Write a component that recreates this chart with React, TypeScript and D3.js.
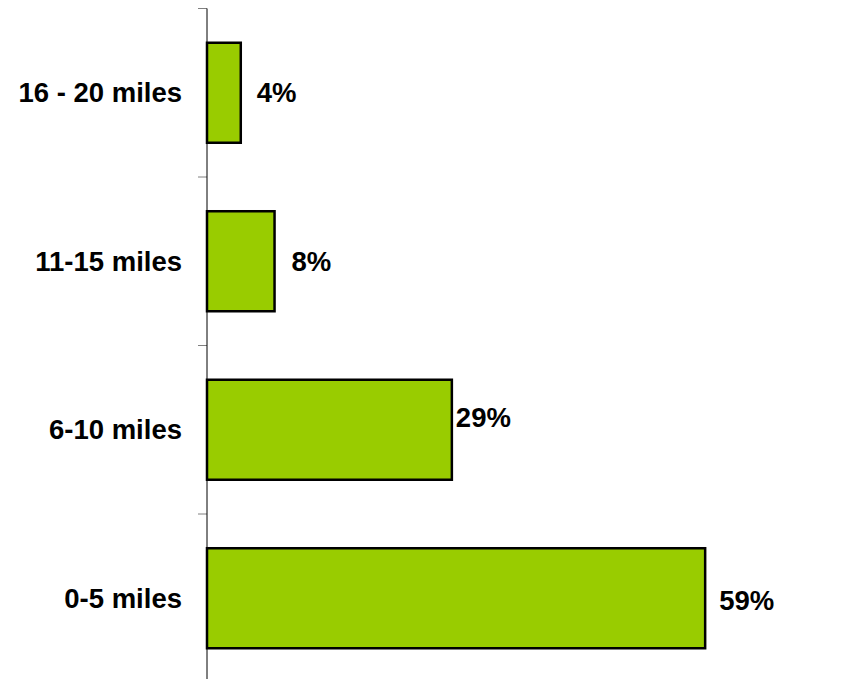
import React from "react";
import * as d3 from "d3";

const categories = ["16 - 20 miles", "11-15 miles", "6-10 miles", "0-5 miles"];
const values = [4, 8, 29, 59];
const valueLabels = ["4%", "8%", "29%", "59%"];

// label placement tweaks (layout only), keyed by category
const labelNudge: Record<string, { dx: number; dy: number }> = {
  "16 - 20 miles": { dx: 16, dy: 0 },
  "11-15 miles": { dx: 17, dy: 0 },
  "6-10 miles": { dx: 4, dy: -12 },
  "0-5 miles": { dx: 14, dy: 2 },
};

const W = 864;
const H = 679;
const AXIS_X = 207;
const FONT = "'Liberation Sans', Arial, Helvetica, sans-serif";

export default function App() {
  const pad = 0.4065;
  const y = d3
    .scaleBand<string>()
    .domain(categories)
    .range([8.5, 682.5])
    .paddingInner(pad)
    .paddingOuter(pad / 2);
  const x = d3.scaleLinear().domain([0, 60]).range([AXIS_X, AXIS_X + 506.6]);
  const step = y.step();
  const tickYs = categories.map((c) => (y(c) as number) - (step * pad) / 2);
  tickYs.push(tickYs[tickYs.length - 1] + step);

  return (
    <svg
      width={W}
      height={H}
      style={{ position: "absolute", left: 0, top: 0, background: "#fff" }}
    >
      {categories.map((c, i) => {
        const y0 = y(c) as number;
        const bw = y.bandwidth();
        const cy = y0 + bw / 2;
        const nudge = labelNudge[c] || { dx: 15, dy: 0 };
        return (
          <g key={c}>
            <rect
              x={x(0)}
              y={y0}
              width={x(values[i]) - x(0)}
              height={bw}
              fill="#99CC00"
              stroke="#000"
              strokeWidth={2.5}
            />
            <text
              x={x(values[i]) + nudge.dx}
              y={cy + nudge.dy}
              dy="0.35em"
              fontFamily={FONT}
              fontWeight="bold"
              fontSize={27.5}
              fill="#000"
            >
              {valueLabels[i]}
            </text>
            <text
              x={182}
              y={cy}
              dy="0.35em"
              textAnchor="end"
              fontFamily={FONT}
              fontWeight="bold"
              fontSize={27.5}
              fill="#000"
            >
              {c}
            </text>
          </g>
        );
      })}
      {tickYs.map((ty, i) => (
        <line
          key={i}
          x1={198}
          x2={AXIS_X}
          y1={ty}
          y2={ty}
          stroke="#808080"
          strokeWidth={1}
        />
      ))}
      <line
        x1={AXIS_X}
        x2={AXIS_X}
        y1={tickYs[0]}
        y2={H}
        stroke="#000"
        strokeWidth={1}
      />
    </svg>
  );
}
